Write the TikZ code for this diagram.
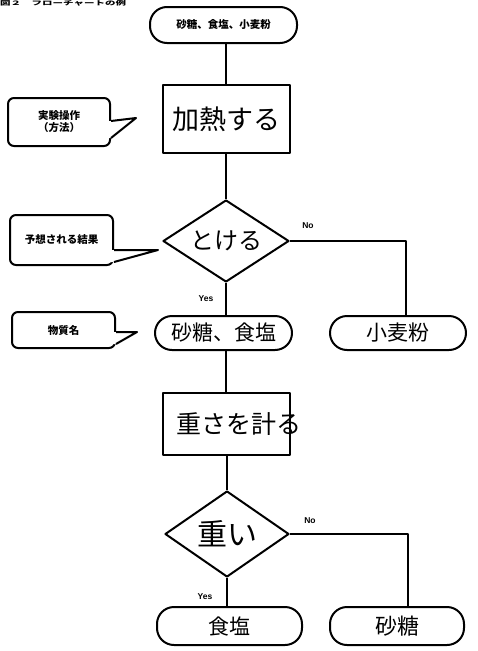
\documentclass[tikz,border=0pt]{standalone}
\usepackage{fontspec}
\setmainfont{Liberation Sans}
\newfontfamily\jp{Noto Sans CJK JP}
\usetikzlibrary{shapes.geometric}

\tikzset{
  flow/.style={line width=2pt, line join=round},
  term/.style={flow, draw, fill=white, rounded corners=17pt, inner sep=0pt},
  procbox/.style={flow, draw, fill=white, rectangle, inner sep=0pt},
  decide/.style={flow, draw, fill=white, diamond, inner sep=0pt},
  note/.style={flow, draw, fill=white, rounded corners=6pt, inner sep=0pt},
  hand/.style={font=\jp\fontsize{24}{24}\selectfont},
  small/.style={font=\jp\bfseries\fontsize{10.5}{12}\selectfont, align=center},
  yn/.style={font=\bfseries\fontsize{8.5}{9}\selectfont}
}

\begin{document}
\begin{tikzpicture}[x=1pt,y=-1pt]
\useasboundingbox (0,0) rectangle (478,651);

% heading line along the top edge
\node[anchor=north west, inner sep=0pt, font=\jp\bfseries\fontsize{6}{6}\selectfont] (head) at (0,0.3) {\scalebox{1.75}[1]{図２　フローチャートの例}};

% main flow
\node[term, minimum width=147pt, minimum height=36pt, small] (start) at (223.5,25) {砂糖、食塩、小麦粉};
\node[procbox, minimum width=127pt, minimum height=68pt] (heat) at (226,119) {};
\node[hand, font=\jp\fontsize{27}{27}\selectfont] (heatT) at (heat) {加熱する};
\node[decide, minimum width=126pt, minimum height=82pt] (melt) at (226,241) {};
\node[hand] (meltT) at (melt) {とける};
\node[term, minimum width=137pt, minimum height=34pt] (ss) at (223.5,333) {};
\node[hand, font=\jp\fontsize{21}{21}\selectfont] (ssT) at (ss) {砂糖、食塩};
\node[term, minimum width=136pt, minimum height=34pt] (flour) at (398,333) {};
\node[hand, font=\jp\fontsize{21}{21}\selectfont] (flourT) at (flour) {小麦粉};
\node[procbox, minimum width=127pt, minimum height=62pt] (weigh) at (226.5,424) {};
\node[hand, font=\jp\fontsize{25}{25}\selectfont] (weighT) at ([xshift=12pt]weigh.center) {重さを計る};
\node[decide, minimum width=124pt, minimum height=86pt] (heavy) at (227,534) {};
\node[hand, font=\jp\fontsize{30}{30}\selectfont] (heavyT) at (heavy) {重い};
\node[term, minimum width=145pt, minimum height=38pt] (salt) at (229.5,626) {};
\node[hand, font=\jp\fontsize{21}{21}\selectfont] (saltT) at (salt) {食塩};
\node[term, minimum width=134pt, minimum height=38pt] (sugar) at (397,626) {};
\node[hand, font=\jp\fontsize{22}{22}\selectfont] (sugarT) at (sugar) {砂糖};

% connectors
\draw[flow] (heat.north |- start.south) -- (heat.north);
\draw[flow] (heat.south) -- (melt.north);
\draw[flow] (melt.south) -- (melt.south |- ss.north);
\draw[flow] (melt.east) -| ([xshift=8pt]flour.north);
\draw[flow] (melt.south |- ss.south) -- (melt.south |- weigh.north);
\draw[flow] (weigh.south -| heavy.north) -- (heavy.north);
\draw[flow] (heavy.south) -- (heavy.south |- salt.north);
\draw[flow] (heavy.east) -| ([xshift=11pt]sugar.north);

\node[yn] (yes1) at (206,299) {Yes};
\node[yn] (no1) at (308,226) {No};
\node[yn] (yes2) at (205,597) {Yes};
\node[yn] (no2) at (310,521) {No};

% callouts
\node[note, minimum width=102pt, minimum height=48pt, small] (c1) at (59,122) {実験操作\\（方法）};
\coordinate (c1tip) at (136,118);
\fill[white] (110.5,121) -- (c1tip) -- (110.5,138) -- (106,138) -- (106,121) -- cycle;
\draw[flow] (c1.east |- 0,121) -- (c1tip) -- (c1.east |- 0,138);

\node[note, minimum width=103pt, minimum height=50pt, small] (c2) at (61.5,240) {予想される結果};
\coordinate (c2tip) at (158,250);
\fill[white] (113.5,250) -- (c2tip) -- (113.5,262) -- (109,262) -- (109,250) -- cycle;
\draw[flow] (c2.east |- 0,250) -- (c2tip) -- (c2.east |- 0,262);

\node[note, minimum width=103pt, minimum height=36pt, small] (c3) at (63.5,330) {物質名};
\coordinate (c3tip) at (137,332);
\fill[white] (115.5,332) -- (c3tip) -- (115.5,344) -- (111,344) -- (111,332) -- cycle;
\draw[flow] (c3.east |- 0,332) -- (c3tip) -- (c3.east |- 0,344);
\end{tikzpicture}
\end{document}
